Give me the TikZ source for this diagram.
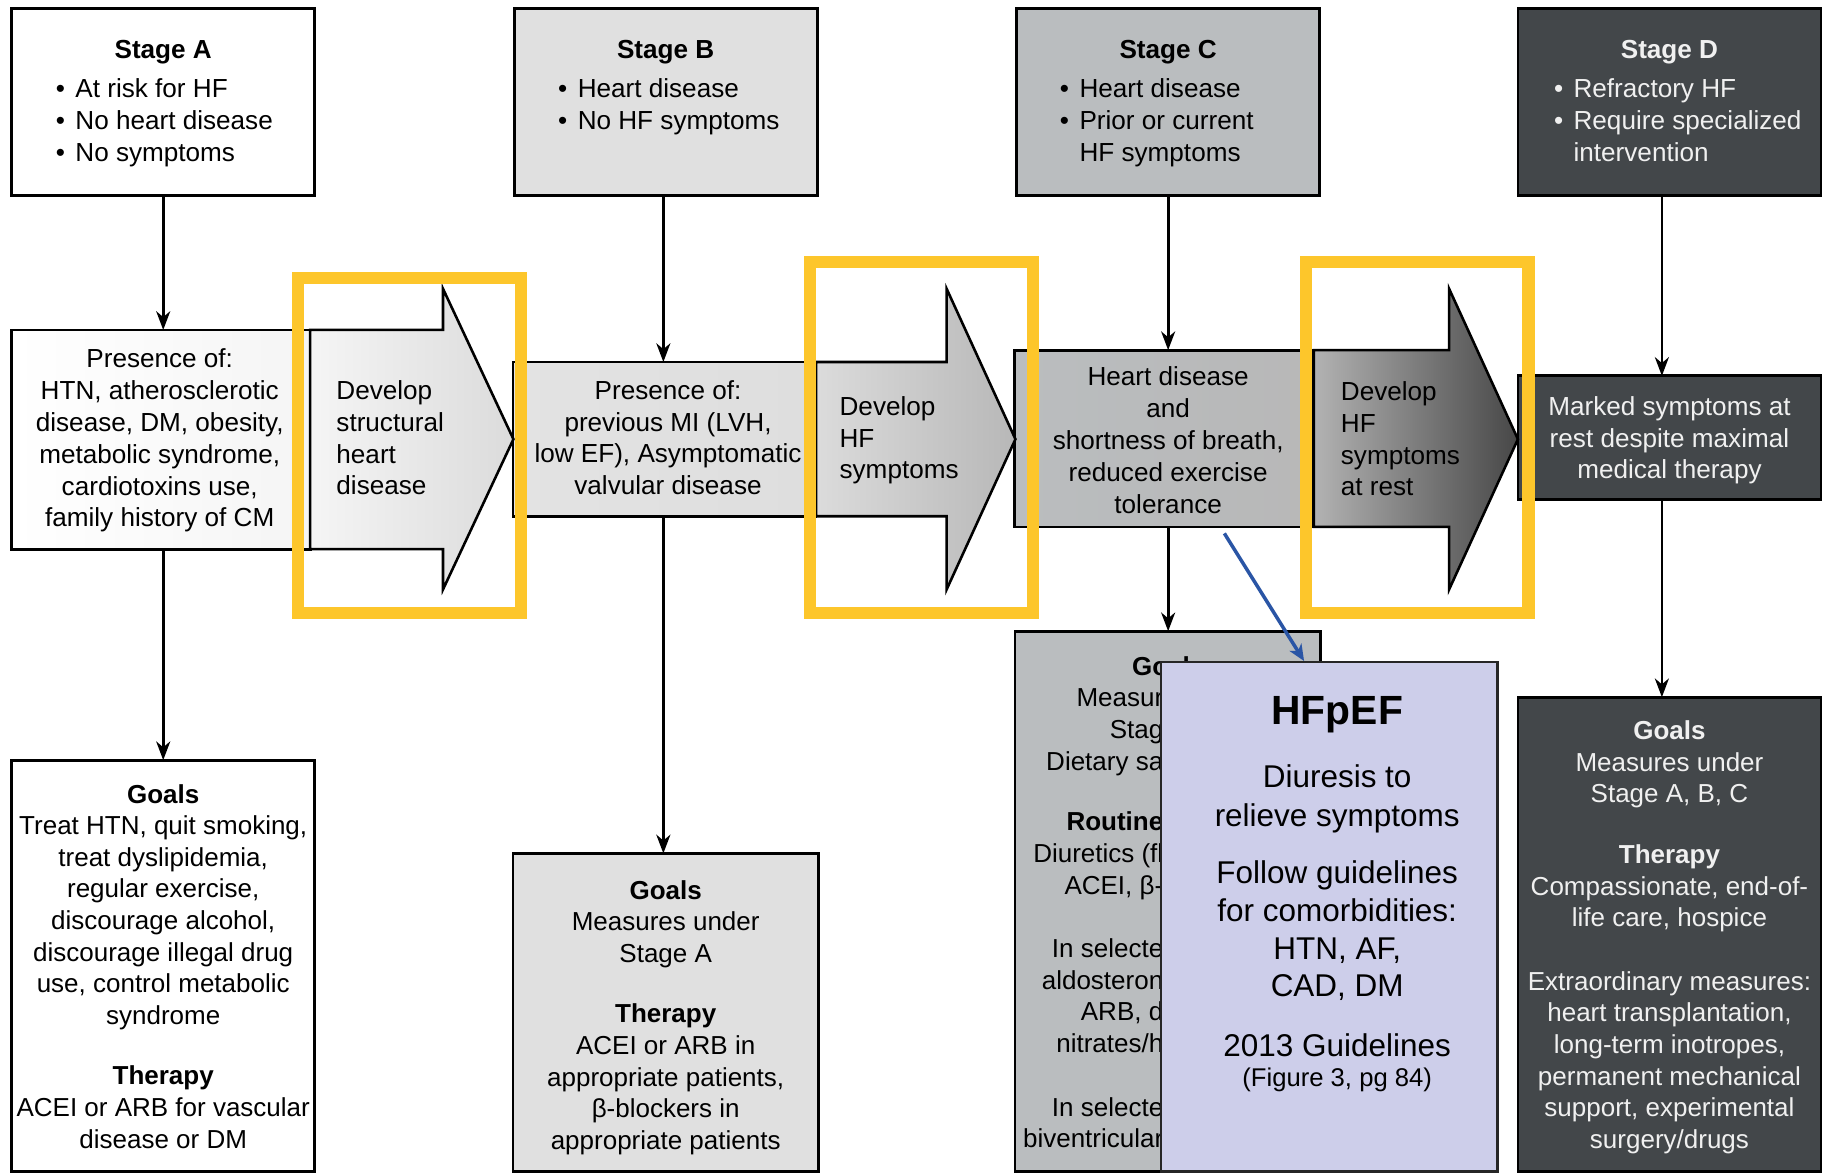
\documentclass[tikz,border=0pt]{standalone}
\usepackage{fontspec}
\setmainfont{Liberation Sans}
\usetikzlibrary{arrows.meta}
\definecolor{grayB}{HTML}{E0E0E0}
\definecolor{grayC}{HTML}{BABDBF}
\definecolor{grayD}{HTML}{43474A}
\definecolor{hfcol}{HTML}{CDCEEA}
\definecolor{ylw}{HTML}{FDC62B}
\definecolor{blu}{HTML}{2A55A5}
\definecolor{txtD}{HTML}{F0F0F0}
\newcommand{\bul}{•\hspace{0.4em}}
\newcommand{\nobul}{\phantom{•}\hspace{0.4em}}
\begin{document}
\begin{tikzpicture}[x=1pt,y=-1pt,
  boxnode/.style={draw=black,line width=2.4pt,inner sep=0pt,outer sep=0pt},
  body/.style={font=\fontsize{22.4}{27.3}\selectfont,align=center,inner sep=0pt,anchor=north},
  bodyg/.style={font=\fontsize{22.3}{27.1}\selectfont,align=center,inner sep=0pt,anchor=north},
  blist/.style={font=\fontsize{22.4}{27.3}\selectfont,align=left,inner sep=0pt,anchor=north west},
  ttl/.style={font=\bfseries\fontsize{22.4}{27.3}\selectfont,inner sep=0pt,anchor=north},
  conn/.style={line width=2.3pt,-{Stealth[length=16pt,width=12pt,inset=5pt]}},
  arrowshape/.style={draw=black,line width=2.2pt,line join=miter},
  hl/.style={draw=ylw,line width=10.5pt},
  bluarrow/.style={draw=blu,line width=3pt,-{Stealth[length=14pt,width=12pt,inset=4pt]}},
]
\useasboundingbox (0,0) rectangle (1568,1007);
\fill[white] (0,0) rectangle (1568,1007);

% ---------- top stage boxes ----------
\node[boxnode,fill=white,minimum width=260pt,minimum height=161pt] (stageA) at (140,87.5) {};
\node[boxnode,fill=grayB,minimum width=260pt,minimum height=161pt] (stageB) at (571,87.5) {};
\node[boxnode,fill=grayC,minimum width=260pt,minimum height=161pt] (stageC) at (1002,87.5) {};
\node[boxnode,fill=grayD,minimum width=260pt,minimum height=161pt] (stageD) at (1432,87.5) {};

\node[ttl] (stageAt) at (140,34.4) {Stage A};
\node[blist] (stageAb) at (47.7,67.3) {\bul At risk for HF\\\bul No heart disease\\\bul No symptoms};
\node[ttl] (stageBt) at (571,34.4) {Stage B};
\node[blist] (stageBb) at (478.6,67.3) {\bul Heart disease\\\bul No HF symptoms};
\node[ttl] (stageCt) at (1002,34.4) {Stage C};
\node[blist] (stageCb) at (909,67.3) {\bul Heart disease\\\bul Prior or current\\\nobul HF symptoms};
\node[ttl,text=txtD] (stageDt) at (1432,34.4) {Stage D};
\node[blist,text=txtD] (stageDb) at (1332.8,67.3) {\bul Refractory HF\\\bul Require specialized\\\nobul intervention};

% ---------- middle row ----------
\node[boxnode,left color=white,right color=black!4,minimum width=256pt,minimum height=188pt] (presA) at (138,377) {};
\node[boxnode,left color=black!11,right color=black!13,minimum width=260pt,minimum height=132.3pt] (presB) at (570,376.65) {};
\node[boxnode,left color=grayC,right color=black!28,minimum width=256.5pt,minimum height=151.7pt] (presC) at (998.75,376.15) {};
\node[boxnode,fill=grayD,minimum width=260pt,minimum height=105.8pt] (presD) at (1432,375.3) {};

\path[arrowshape,left color=black!4,right color=black!14]
  (266,283) -- (380,283) -- (380,247.7) -- (440.4,376.7) -- (380,505.6) -- (380,471) -- (266,471) -- cycle;
\path[arrowshape,left color=black!14,right color=black!28]
  (700,310.5) -- (812,310.5) -- (812,247.7) -- (871,376.7) -- (812,505.6) -- (812,442.8) -- (700,442.8) -- cycle;
\path[arrowshape,left color=black!30,right color=black!72]
  (1127,300.3) -- (1243,300.3) -- (1243,247.7) -- (1302,376.7) -- (1243,505.6) -- (1243,452) -- (1127,452) -- cycle;

\node[body] (presAt) at (137,299) {Presence of:\\HTN, atherosclerotic\\disease, DM, obesity,\\metabolic syndrome,\\cardiotoxins use,\\family history of CM};
\node[blist] (arrAt) at (288.4,326.2) {Develop\\structural\\heart\\disease};
\node[body] (presBt) at (573,326) {Presence of:\\previous MI (LVH,\\low EF), Asymptomatic\\valvular disease};
\node[blist] (arrBt) at (720,339.8) {Develop\\HF\\symptoms};
\node[body] (presCt) at (1002,314.4) {Heart disease\\and\\shortness of breath,\\reduced exercise\\tolerance};
\node[blist] (arrCt) at (1150,327) {Develop\\HF\\symptoms\\at rest};
\node[body,text=txtD] (presDt) at (1432,339.8) {Marked symptoms at\\rest despite maximal\\medical therapy};

% ---------- bottom goal boxes ----------
\node[boxnode,fill=white,minimum width=260pt,minimum height=353pt] (goalsA) at (140,828.5) {};
\node[boxnode,fill=grayB,minimum width=262pt,minimum height=273pt] (goalsB) at (571,868.5) {};
\node[boxnode,fill=grayC,minimum width=262pt,minimum height=463.6pt] (goalsC) at (1001.6,773.2) {};
\node[boxnode,fill=grayD,minimum width=260pt,minimum height=407pt] (goalsD) at (1432,801.5) {};

\node[bodyg] (goalsAt) at (140,672.5) {\textbf{Goals}\\Treat HTN, quit smoking,\\treat dyslipidemia,\\regular exercise,\\discourage alcohol,\\discourage illegal drug\\use, control metabolic\\syndrome\\[25pt]\textbf{Therapy}\\ACEI or ARB for vascular\\disease or DM};
\node[bodyg] (goalsBt) at (571,754.8) {\textbf{Goals}\\Measures under\\Stage A\\[25pt]\textbf{Therapy}\\ACEI or ARB in\\appropriate patients,\\β-blockers in\\appropriate patients};
\node[ttl,font=\bfseries\fontsize{22.3}{27.1}\selectfont] (goalsCh) at (1002,563) {Goals};
\begin{scope}
\clip (870,540) rectangle (996,1005);
\node[bodyg,align=right,anchor=north east] (goalsCt) at (998,590.8) {Measur\\Stag\\Dietary sa\\[25pt]\textbf{Routine}\\Diuretics (fl\\ACEI, β-\\[27.5pt]In selecte\\aldosteron\\ARB, d\\nitrates/h\\[27.5pt]In selecte\\biventricular};
\end{scope}
\node[bodyg,text=txtD] (goalsDt) at (1432,618) {\textbf{Goals}\\Measures under\\Stage A, B, C\\[25pt]\textbf{Therapy}\\Compassionate, end-of-\\life care, hospice\\[27.5pt]Extraordinary measures:\\heart transplantation,\\long-term inotropes,\\permanent mechanical\\support, experimental\\surgery/drugs};

% ---------- connectors ----------
\draw[conn] (stageA.south) -- (stageA.south |- presA.north);
\draw[conn] (stageA.south |- presA.south) -- (stageA.south |- goalsA.north);
\draw[conn] ([xshift=-2pt]stageB.south) -- ([xshift=-2pt]stageB.south |- presB.north);
\draw[conn] ([xshift=-2pt]stageB.south |- presB.south) -- ([xshift=-2pt]stageB.south |- goalsB.north);
\draw[conn] (stageC.south) -- (stageC.south |- presC.north);
\draw[conn] (stageC.south |- presC.south) -- (stageC.south |- goalsC.north);
\draw[conn] ([xshift=-6.5pt]stageD.south) -- ([xshift=-6.5pt]stageD.south |- presD.north);
\draw[conn] ([xshift=-6.5pt]stageD.south |- presD.south) -- ([xshift=-6.5pt]stageD.south |- goalsD.north);

% ---------- yellow highlights ----------
\draw[hl] (255.5,238.5) rectangle (447,526);
\draw[hl] (694.7,225) rectangle (886,526);
\draw[hl] (1120,225) rectangle (1311,526);

% ---------- HFpEF box ----------
\node[draw=black!85,line width=2pt,fill=hfcol,inner sep=0pt,minimum width=288.4pt,minimum height=437pt] (hfpef) at (1140.2,786.5) {};
\node[font=\bfseries\fontsize{35}{40}\selectfont,inner sep=0pt] (hft) at (1147,613) {HFpEF};
\node[font=\fontsize{27}{33.8}\selectfont,align=center,inner sep=0pt] (hf1) at (1147,685) {Diuresis to\\relieve symptoms};
\node[font=\fontsize{27}{32.4}\selectfont,align=center,inner sep=0pt] (hf2) at (1147,798.5) {Follow guidelines\\for comorbidities:\\HTN, AF,\\CAD, DM};
\node[font=\fontsize{27}{32}\selectfont,inner sep=0pt] (hf3) at (1147,896.5) {2013 Guidelines};
\node[font=\fontsize{22}{27}\selectfont,inner sep=0pt] (hf4) at (1147,926) {(Figure 3, pg 84)};

\coordinate (bstart) at (1050.2,457.5);
\draw[bluarrow] (bstart) -- ([xshift=-21.6pt]hfpef.north);
\end{tikzpicture}
\end{document}
